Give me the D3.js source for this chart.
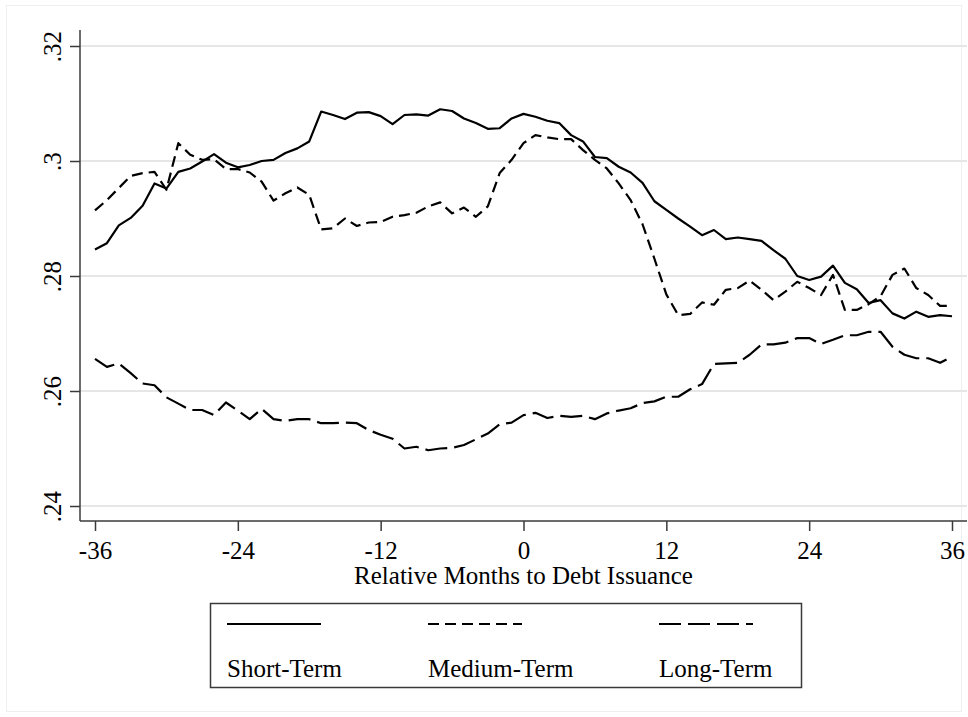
<!DOCTYPE html>
<html>
<head>
<meta charset="utf-8">
<script src="https://cdn.jsdelivr.net/npm/d3@7"></script>
<style>
    body { margin: 0; background: #fff; }
    svg { display: block; font-family: "Liberation Serif", "Times New Roman", serif; }
</style>
</head>
<body>
<svg id="chart" width="968" height="717"></svg>
<script>

// months relative to debt issuance
let months = [-36, -35, -34, -33, -32, -31, -30, -29, -28, -27, -26, -25, -24, -23, -22, -21, -20, -19, -18, -17,
    -16, -15, -14, -13, -12, -11, -10, -9, -8, -7, -6, -5, -4, -3, -2, -1, 0, 1, 2, 3, 4, 5, 6, 7, 8, 9, 10,
    11, 12, 13, 14, 15, 16, 17, 18, 19, 20, 21, 22, 23, 24, 25, 26, 27, 28, 29, 30, 31, 32, 33, 34, 35, 36];

let shortTerm = [.2846, .2857, .2888, .2901, .2922, .2961, .2952, .2981, .2987, .2999, .3012, .2997, .2989, .2993,
    .3000, .3002, .3014, .3022, .3034, .3086, .3080, .3073, .3084, .3085, .3078, .3064, .3080, .3081, .3079,
    .3090, .3087, .3074, .3066, .3056, .3057, .3074, .3082, .3077, .3070, .3066, .3045, .3034, .3007, .3005,
    .2990, .2980, .2962, .2930, .2915, .2900, .2886, .2871, .2880, .2864, .2867, .2864, .2861, .2845, .2830,
    .2800, .2793, .2799, .2818, .2788, .2777, .2753, .2758, .2735, .2726, .2738, .2729, .2732, .2730];

let mediumTerm = [.2914, .2932, .2953, .2974, .2979, .2981, .2950, .3031, .3011, .3002, .3003, .2986, .2986, .2980,
    .2964, .2931, .2944, .2954, .2941, .2881, .2883, .2900, .2887, .2893, .2894, .2903, .2906, .2910, .2921,
    .2928, .2909, .2919, .2903, .2921, .2979, .3002, .3031, .3045, .3041, .3038, .3038, .3019, .3002, .2987,
    .2961, .2932, .2890, .2830, .2768, .2732, .2734, .2754, .2750, .2776, .2779, .2792, .2776, .2758, .2773,
    .2790, .2779, .2767, .2802, .2741, .2741, .2751, .2765, .2802, .2813, .2779, .2767, .2748, .2748];

let longTerm = [.2656, .2642, .2648, .2631, .2613, .2610, .2589, .2578, .2567, .2567, .2558, .2580, .2566, .2551,
    .2569, .2551, .2548, .2551, .2551, .2544, .2544, .2545, .2544, .2532, .2524, .2517, .2500, .2503, .2497,
    .2500, .2501, .2506, .2516, .2526, .2542, .2545, .2558, .2562, .2553, .2557, .2555, .2557, .2551, .2561,
    .2566, .2570, .2579, .2582, .2590, .2590, .2603, .2612, .2647, .2648, .2649, .2663, .2681, .2681, .2684,
    .2692, .2692, .2682, .2689, .2697, .2697, .2703, .2703, .2677, .2663, .2657, .2657, .2649, .2660];

let xTicks = [-36, -24, -12, 0, 12, 24, 36];
let yTicks = [.24, .26, .28, .30, .32];
let seriesNames = ["Short-Term", "Medium-Term", "Long-Term"];

let svg = d3.select("#chart");

// outer graph region border (very faint)
svg.append("rect")
    .attr("x", 6.5).attr("y", 5.5)
    .attr("width", 955).attr("height", 706)
    .attr("fill", "none")
    .attr("stroke", "#efefef");

let plotLeft = 80,
    plotRight = 967,
    plotTop = 30,
    plotBottom = 521;

let xScale = d3.scaleLinear().domain([-36, 36]).range([95, 952]);
let yScale = d3.scaleLinear().domain([0.24, 0.32]).range([506, 46]);

// gridlines
svg.append("g").selectAll("line")
    .data(yTicks)
    .enter().append("line")
    .attr("x1", plotLeft).attr("x2", plotRight)
    .attr("y1", function (d) { return yScale(d); })
    .attr("y2", function (d) { return yScale(d); })
    .attr("stroke", "#e6e6e6")
    .attr("stroke-width", 2);

// y axis
let yAxis = d3.axisLeft(yScale)
    .tickValues(yTicks)
    .tickSize(10)
    .tickPadding(9)
    .tickFormat(function (d) { return d3.format(".2f")(d).replace(/^0/, "").replace(/0$/, ""); });

let yG = svg.append("g")
    .attr("transform", "translate(" + plotLeft + ",0)")
    .call(yAxis);
yG.select(".domain").attr("d", "M0," + plotTop + "V" + plotBottom);
yG.selectAll("text")
    .attr("x", null).attr("dy", null)
    .attr("transform", "translate(-19,0) rotate(-90)")
    .attr("text-anchor", "middle")
    .attr("font-size", 25)
    .attr("font-family", "Liberation Serif")
    .attr("fill", "#000");

// x axis (plain hyphen for negatives, like the original)
let xAxis = d3.axisBottom(xScale)
    .tickValues(xTicks)
    .tickSize(10)
    .tickPadding(8)
    .tickFormat(function (d) { return String(d); });

let xG = svg.append("g")
    .attr("transform", "translate(0," + plotBottom + ")")
    .call(xAxis);
xG.select(".domain").attr("d", "M" + plotLeft + ",0H" + plotRight);
xG.selectAll("text")
    .attr("dy", null)
    .attr("y", 38)
    .attr("font-size", 25)
    .attr("font-family", "Liberation Serif")
    .attr("fill", "#000");

svg.selectAll(".domain, .tick line")
    .attr("stroke", "#3a3a3a")
    .attr("stroke-width", 1.5);

svg.append("text")
    .attr("x", (xScale(-36) + xScale(36)) / 2)
    .attr("y", 584)
    .attr("text-anchor", "middle")
    .attr("font-size", 25)
    .text("Relative Months to Debt Issuance");

// the lines
let dashes = [null, "11,6", "22,7"];
let seriesData = [shortTerm, mediumTerm, longTerm];

let line = d3.line()
    .x(function (d, i) { return xScale(months[i]); })
    .y(function (d) { return yScale(d); });

svg.append("g").selectAll("path")
    .data(seriesData)
    .enter().append("path")
    .attr("d", line)
    .attr("fill", "none")
    .attr("stroke", "#000")
    .attr("stroke-width", 2.2)
    .attr("stroke-linejoin", "round")
    .attr("stroke-dasharray", function (d, i) { return dashes[i]; });

// legend
let legend = svg.append("g");
legend.append("rect")
    .attr("x", 210.5).attr("y", 603.5)
    .attr("width", 591).attr("height", 84)
    .attr("fill", "#fff")
    .attr("stroke", "#3a3a3a")
    .attr("stroke-width", 1.5);

let legendX = [227, 428, 659];

let items = legend.selectAll("g.item")
    .data(seriesNames)
    .enter().append("g")
    .attr("class", "item")
    .attr("transform", function (d, i) { return "translate(" + legendX[i] + ",0)"; });

items.append("line")
    .attr("x1", 0).attr("x2", 94)
    .attr("y1", 624).attr("y2", 624)
    .attr("stroke", "#000")
    .attr("stroke-width", 2.2)
    .attr("stroke-dasharray", function (d, i) { return dashes[i]; });

items.append("text")
    .attr("x", 0).attr("y", 677)
    .attr("font-size", 25)
    .text(function (d) { return d; });

</script>
</body>
</html>
